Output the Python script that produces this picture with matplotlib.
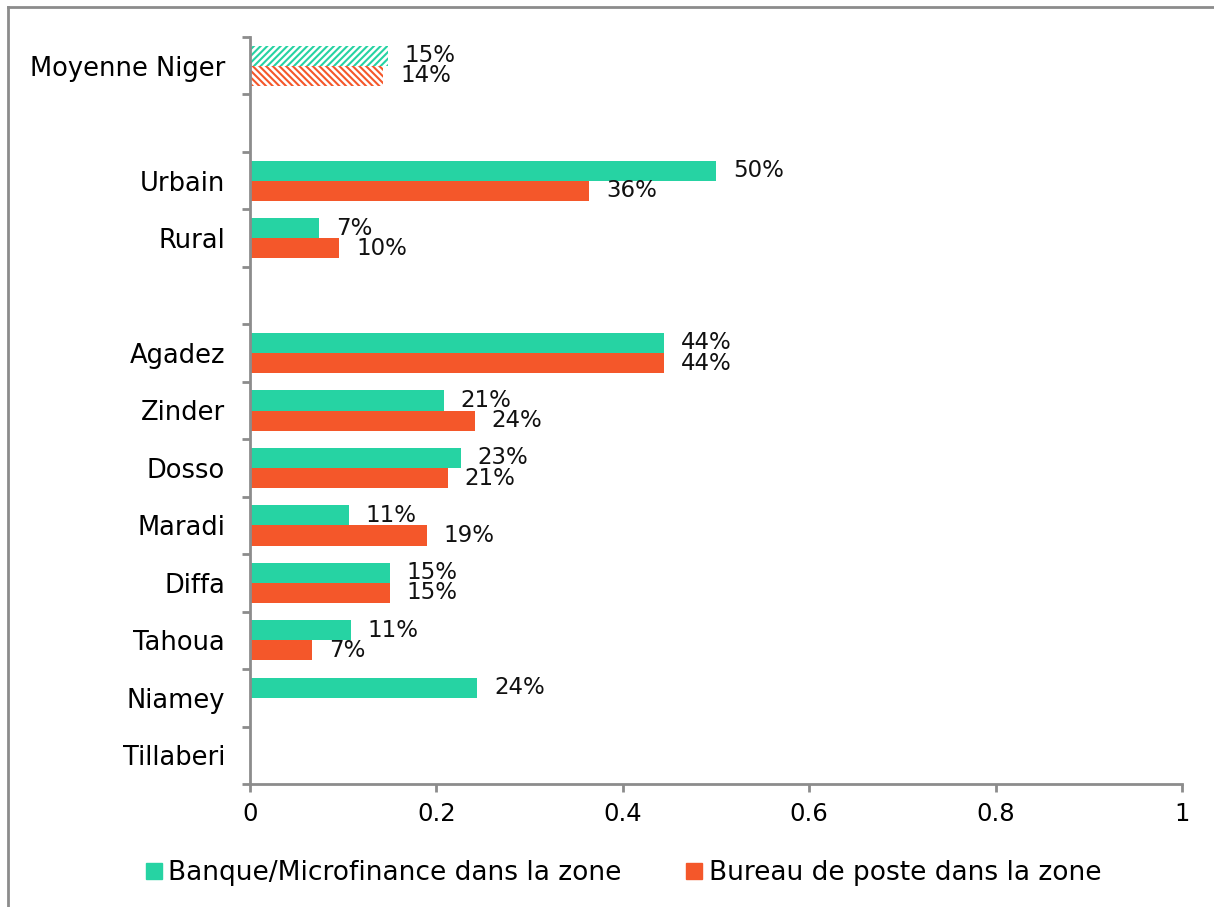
import numpy as np
import matplotlib
matplotlib.use('Agg')
import matplotlib.pyplot as plt
from matplotlib.lines import Line2D
from matplotlib.ticker import FuncFormatter

# Données (None = pas de barre)
categories = ['Moyenne Niger', '', 'Urbain', 'Rural', '',
              'Agadez', 'Zinder', 'Dosso', 'Maradi', 'Diffa',
              'Tahoua', 'Niamey', 'Tillaberi']
banque = [0.148, None, 0.50, 0.074, None,
          0.444, 0.208, 0.226, 0.106, 0.150,
          0.108, 0.244, None]
poste = [0.143, None, 0.364, 0.096, None,
         0.444, 0.241, 0.212, 0.190, 0.150,
         0.067, None, None]
hachure = [True] + [False] * 12

vert = '#26D3A3'
orange = '#F4572A'
gris = '#8C8C8C'

plt.rcParams['font.family'] = ['DejaVu Sans']
plt.rcParams['hatch.linewidth'] = 1.5

fig = plt.figure(figsize=(12.14, 9.07), dpi=100)
ax = fig.add_axes([250 / 1214, 1 - 784 / 907, 932 / 1214, 747 / 907])

y = np.arange(len(categories))
h = 0.35


def dessiner(valeurs, decalage, couleur, motif):
    for yi, v, hat in zip(y, valeurs, hachure):
        if v is None:
            continue
        if hat:
            ax.barh(yi + decalage, v, height=h, color='white', edgecolor=couleur,
                    hatch=motif, linewidth=0)
        else:
            ax.barh(yi + decalage, v, height=h, color=couleur, linewidth=0)
        ax.text(v + 0.018, yi + decalage, f'{v:.0%}', va='center', ha='left',
                fontsize=16.5, color='#111111')


dessiner(banque, -h / 2, vert, '/////')
dessiner(poste, h / 2, orange, '\\\\\\\\\\')

ax.set_ylim(len(categories) - 0.5, -0.5)
ax.set_xlim(0, 1)
ax.set_yticks(y)
ax.set_yticklabels(categories, fontsize=18.5)
ax.set_yticks(np.arange(len(categories) + 1) - 0.5, minor=True)
ax.tick_params(axis='y', which='major', length=0, pad=18)
ax.tick_params(axis='y', which='minor', length=6, width=2, color=gris)
ax.set_xticks([0, 0.2, 0.4, 0.6, 0.8, 1])
ax.xaxis.set_major_formatter(FuncFormatter(lambda v, p: f'{v:g}'))
ax.tick_params(axis='x', length=6, width=2, color=gris, labelsize=17.5, pad=7)

for s in ['top', 'right']:
    ax.spines[s].set_visible(False)
for s in ['left', 'bottom']:
    ax.spines[s].set_color(gris)
    ax.spines[s].set_linewidth(2)

# Légende
poignees = [Line2D([], [], marker='s', linestyle='none', markersize=12,
                   markerfacecolor=vert, markeredgecolor=vert),
            Line2D([], [], marker='s', linestyle='none', markersize=12,
                   markerfacecolor=orange, markeredgecolor=orange)]
fig.legend(poignees, ['Banque/Microfinance dans la zone', 'Bureau de poste dans la zone'],
           loc='center', bbox_to_anchor=(0.513, 1 - 873 / 907), ncol=2, frameon=False,
           fontsize=19, handletextpad=0.2, columnspacing=2.4, handlelength=0.7)

# Cadre extérieur
fig.add_artist(Line2D([8 / 1214, 8 / 1214], [0, 1 - 7 / 907], color=gris, lw=2))
fig.add_artist(Line2D([8 / 1214, 1], [1 - 7 / 907, 1 - 7 / 907], color=gris, lw=2))

fig.savefig('out.png', dpi=100)
